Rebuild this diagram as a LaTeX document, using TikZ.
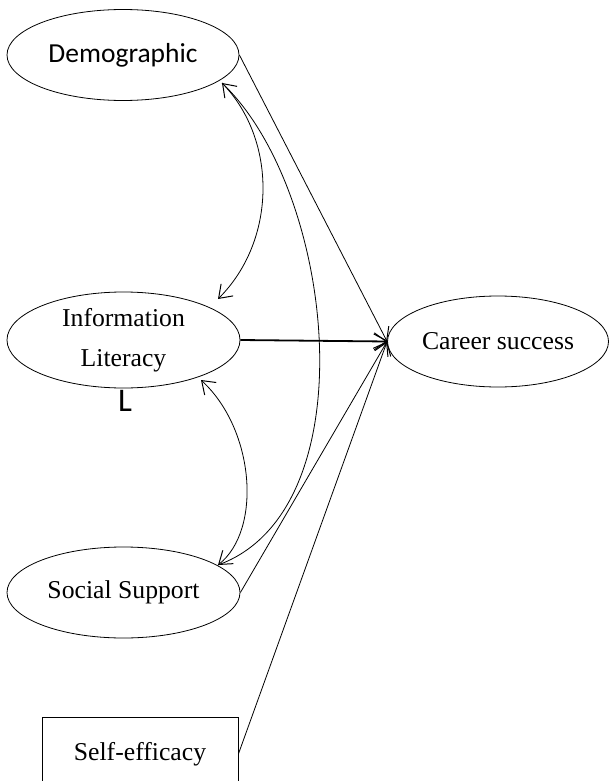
\documentclass[tikz,border=0pt]{standalone}
\usepackage{fontspec}
\setmainfont{Liberation Serif}
\newfontfamily\calibri{Carlito}
\usetikzlibrary{shapes.geometric,arrows.meta}
\begin{document}
\begin{tikzpicture}[x=1pt,y=-1pt,
  ov/.style={draw,ellipse,inner sep=0pt,line width=0.8pt,font=\fontsize{25.7}{36}\selectfont,align=center},
  bx/.style={draw,rectangle,inner sep=0pt,line width=0.8pt,font=\fontsize{25.7}{36}\selectfont},
  link/.style={line width=0.8pt,-{Straight Barb[length=12pt,width=17pt,line width=1pt]}},
  both/.style={line width=0.8pt,{Straight Barb[length=12pt,width=17pt,line width=1pt]}-{Straight Barb[length=12pt,width=17pt,line width=1pt]}}]
\useasboundingbox[fill=white] (0,0) rectangle (609,781);
\node[ov,minimum width=232pt,minimum height=91pt,font=\calibri\fontsize{27.5}{33}\selectfont] (dem) at (123,55) {Demographic};
\node[ov,minimum width=233pt,minimum height=96pt] (il) at (123.5,340) {Information\\[4pt]Literacy};
\node[ov,minimum width=233pt,minimum height=91pt] (ss) at (123.5,592.5) {Social Support};
\node[ov,minimum width=221pt,minimum height=91pt] (cs) at (498,341.5) {Career success};
\node[bx,minimum width=196pt,minimum height=74pt] (se) at (140,754) {Self-efficacy};
\node[font=\calibri\fontsize{33}{36}\selectfont,inner sep=0pt] (lbl) at (125,401) {L};
\coordinate (dtip) at (222,83);
\coordinate (itop) at (218,299);
\coordinate (ibot) at (201,380);
\coordinate (stip) at (218,565);
\draw[link] (dem.east) -- (cs.west);
\draw[link,line width=1.8pt] (il.east) -- (cs.west);
\draw[link] (ss.east) -- (cs.west);
\draw[link] (se.east) -- (cs.west);
\draw[both] (dtip) .. controls (277,140) and (277,240) .. (itop);
\draw[both] (ibot) .. controls (255,430) and (262,530) .. (stip);
\draw[line width=0.8pt] (dtip) .. controls (335,190) and (370,510) .. (stip);
\end{tikzpicture}
\end{document}
